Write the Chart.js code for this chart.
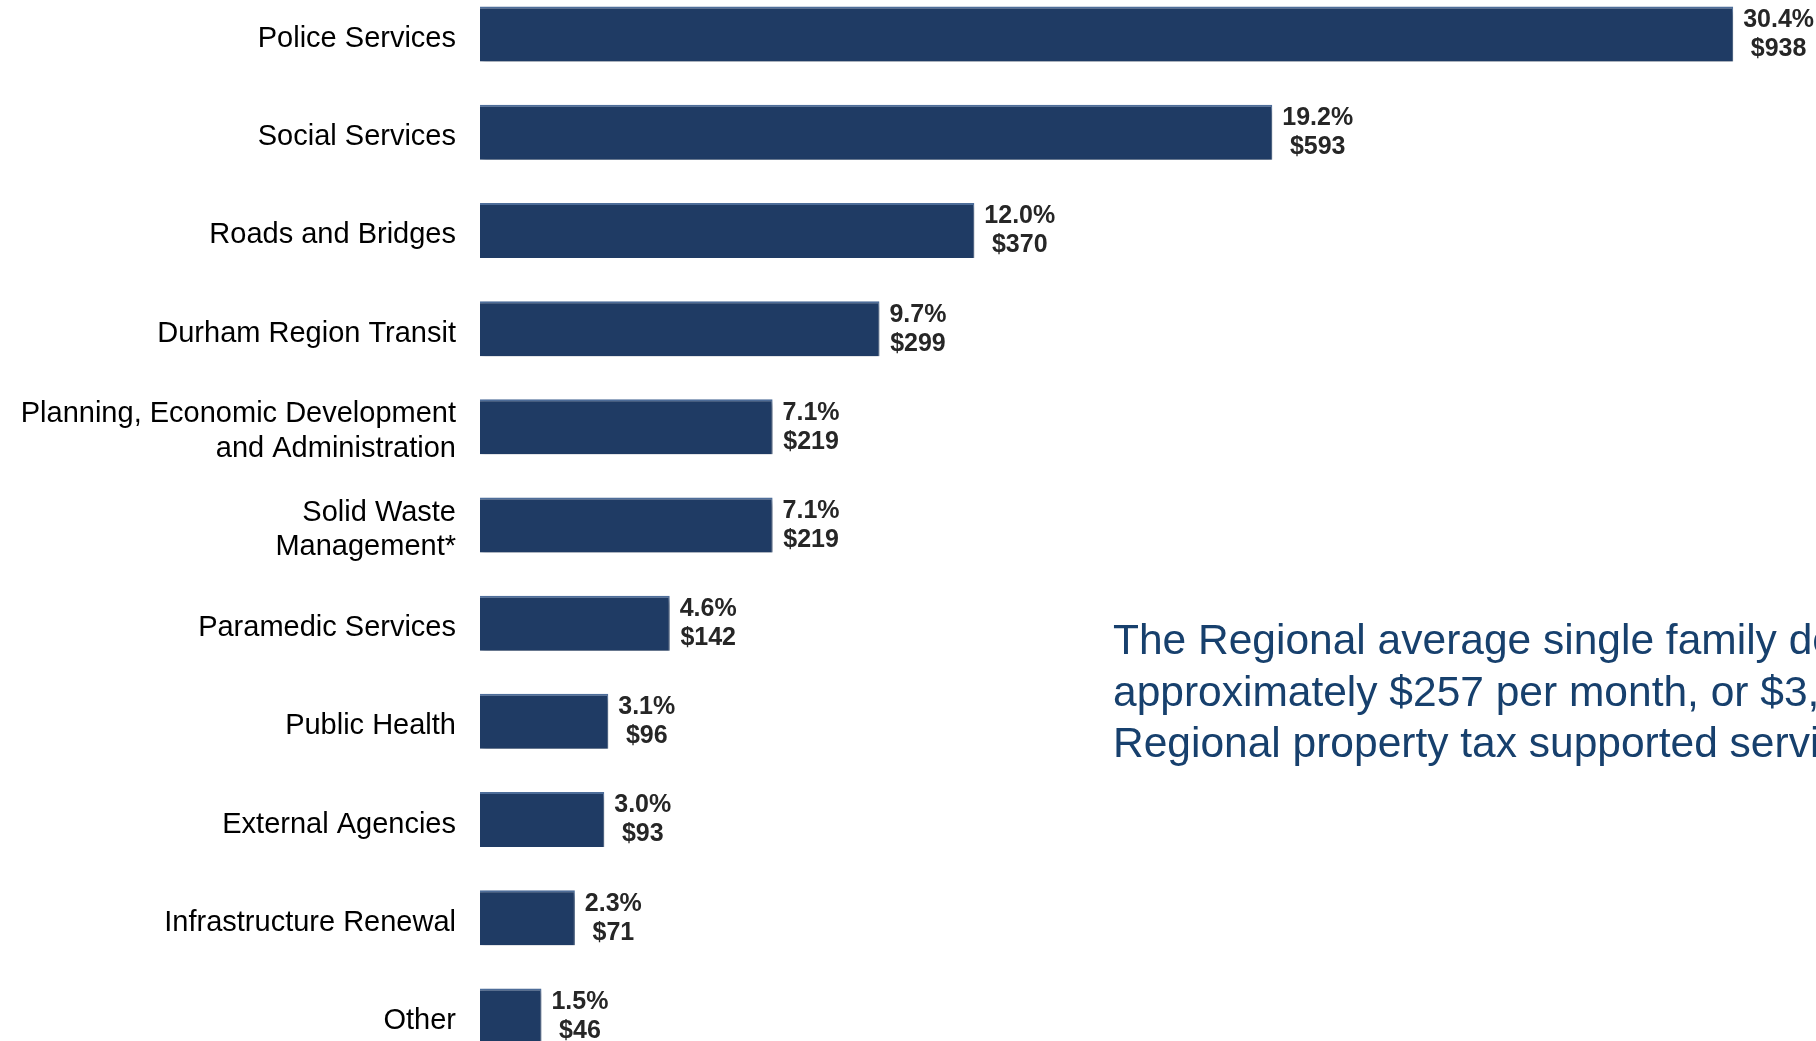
<!DOCTYPE html>
<html>
<head>
<meta charset="utf-8">
<script src="https://cdn.jsdelivr.net/npm/chart.js@4/dist/chart.umd.min.js"></script>
<style>
  html, body { margin: 0; padding: 0; background: #fff; width: 1816px; height: 1041px; overflow: hidden; position: relative; }
  .wrap { position: absolute; left: 0; top: -15px; width: 1816px; height: 1080px; }
  .note {
    position: absolute; left: 1113px; top: 614px;
    font-family: "Liberation Sans", Arial, sans-serif; font-size: 42.5px; line-height: 51.5px;
    color: #17406d; white-space: nowrap;
  }
</style>
</head>
<body>
<div class="wrap"><canvas id="myChart"></canvas></div>
<div class="note">The Regional average single family detached home will pay<br>approximately $257 per month, or $3,084 per year for<br>Regional property tax supported services.</div>
<script>
const categories = [
    'Police Services',
    'Social Services',
    'Roads and Bridges',
    'Durham Region Transit',
    ['Planning, Economic Development', 'and Administration'],
    ['Solid Waste', 'Management*'],
    'Paramedic Services',
    'Public Health',
    'External Agencies',
    'Infrastructure Renewal',
    'Other'
];
const dollars = [938, 593, 370, 299, 219, 219, 142, 96, 93, 71, 46];
const shares = [30.4, 19.2, 12.0, 9.7, 7.1, 7.1, 4.6, 3.1, 3.0, 2.3, 1.5];

// shadow under the bars + the two-line value labels
const barExtras = {
    id: 'barExtras',
    beforeDatasetsDraw(chart) {
        const ctx = chart.ctx;
        ctx.save();
        ctx.shadowColor = 'rgba(0,0,0,0.35)';
        ctx.shadowBlur = 5;
        ctx.shadowOffsetX = 2;
        ctx.shadowOffsetY = 3;
    },
    afterDatasetsDraw(chart) {
        const ctx = chart.ctx;
        ctx.restore();
        const meta = chart.getDatasetMeta(0);
        ctx.save();
        ctx.font = 'bold 25px "Liberation Sans", Arial, sans-serif';
        ctx.fillStyle = '#262626';
        ctx.textAlign = 'center';
        ctx.textBaseline = 'middle';
        meta.data.forEach((bar, i) => {
            const top = shares[i].toFixed(1) + '%';
            const bottom = '$' + dollars[i];
            const w = Math.max(ctx.measureText(top).width, ctx.measureText(bottom).width);
            const cx = bar.x + 10 + w / 2;
            ctx.fillText(top, cx, bar.y - 14);
            ctx.fillText(bottom, cx, bar.y + 15);
        });
        ctx.restore();
    }
};

const data = {
    labels: categories,
    datasets: [{
        data: dollars,
        backgroundColor: '#1f3b64',
        borderColor: '#4f6f9c',
        borderWidth: { top: 2, right: 1, bottom: 0, left: 0 },
        borderSkipped: false,
        barPercentage: 0.56,
        categoryPercentage: 1
    }]
};

const config = {
    type: 'bar',
    data: data,
    options: {
        indexAxis: 'y',
        responsive: true,
        maintainAspectRatio: false,
        animation: false,
        layout: { padding: 0 },
        plugins: {
            legend: { display: false },
            tooltip: { enabled: false }
        },
        scales: {
            x: {
                display: false,
                min: 0,
                max: 1000
            },
            y: {
                grid: { display: false, drawTicks: false },
                border: { display: false },
                afterFit(scale) {
                    scale.width = 480;
                    // no extra room above/below for the tick labels
                    scale.paddingTop = 0;
                    scale.paddingBottom = 0;
                },
                ticks: {
                    padding: 24,
                    labelOffset: 5,
                    color: '#000',
                    font: { family: '"Liberation Sans", Arial, sans-serif', size: 29, lineHeight: 1.2 }
                }
            }
        }
    },
    plugins: [barExtras]
};

const myChart = new Chart(document.getElementById('myChart'), config);
</script>
</body>
</html>
